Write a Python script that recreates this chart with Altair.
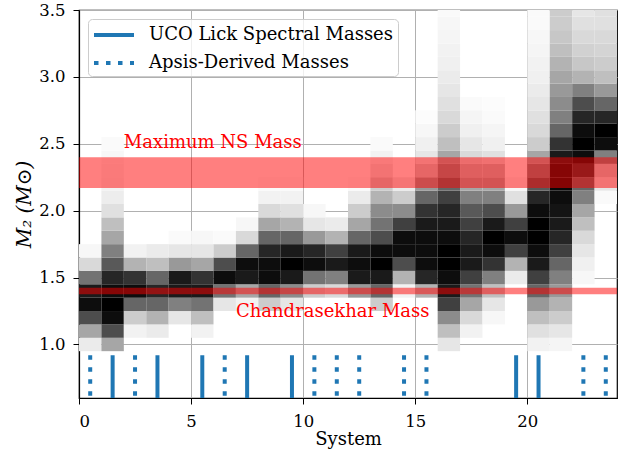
import altair as alt
import pandas as pd

# Mass grid (bin centres, in solar masses) for the per-system posterior shading
mass_grid = [1.0, 1.1, 1.2, 1.3, 1.4, 1.5, 1.6, 1.7, 1.8, 1.9, 2.0, 2.1, 2.2,
             2.3, 2.4, 2.5, 2.6, 2.7, 2.8, 2.9, 3.0, 3.1, 3.2, 3.3, 3.4, 3.5]

# Shading intensity (0 = white, 1 = black) read per system along mass_grid
density = [
    [.08, .35, .7, .95, .9, .55, .15, .03],
    [.35, .7, .95, 1.0, .95, .85, .65, .5, .35, .25, .12, .07, .05, .04, .03, .02],
    [0, .05, .2, .6, .95, .8, .3, .05],
    [0, .08, .3, .6, .85, .6, .25, .08],
    [0, 0, .1, .5, .9, .9, .4, .1, .02],
    [0, .05, .25, .55, .9, .8, .35, .1, .03],
    [0, 0, 0, .1, .55, .95, .7, .2, .02],
    [0, 0, 0, .05, .35, .9, .95, .6, .15, .03],
    [0, 0, 0, .2, .6, .95, .95, .85, .6, .35, .15, .05, .02],
    [0, 0, 0, .1, .45, .9, 1.0, .9, .6, .3, .12, .05, .02],
    [0, 0, 0, 0, .2, .55, .95, .85, .4, .1, .03],
    [0, 0, 0, 0, .15, .5, .9, .75, .3, .08],
    [0, 0, 0, 0, .4, .9, .95, .9, .6, .35, .2, .08, .02],
    [0, 0, 0, .2, .6, .9, 1.0, .95, .7, .55, .45, .3, .2, .1, .05, .02],
    [0, 0, 0, 0, .05, .3, .7, .95, .95, .75, .45, .2, .08],
    [0, 0, 0, 0, .3, .85, .95, .95, .95, .9, .8, .6, .4, .2, .1, .06, .03, .01],
    [.1, .25, .45, .75, .9, .95, 1.0, 1.0, .95, .9, .85, .75, .6, .45, .35, .25,
     .2, .15, .12, .1, .08, .06, .05, .04, .03, .02],
    [0, .05, .15, .35, .55, .75, .9, .9, .85, .75, .65, .5, .35, .25, .15, .1,
     .06, .04, .02],
    [0, 0, .03, .1, .25, .5, .8, .95, 1.0, .9, .7, .5, .35, .25, .12, .06, .04,
     .02, .01],
    [0, 0, 0, 0, 0, .08, .3, .75, .95, .75, .4, .12, .03],
    [.05, .12, .25, .4, .6, .75, .9, .95, 1.0, 1.0, .95, .85, .65, .5, .35, .2,
     .15, .12, .1, .08, .06, .05, .04, .03, .02, .02],
    [.04, .1, .2, .3, .4, .5, .6, .75, .85, .9, .92, .95, .97, .95, .9, .8, .6,
     .5, .45, .4, .35, .3, .25, .22, .2, .2],
    [0, 0, 0, 0, 0, .03, .06, .1, .15, .25, .35, .5, .6, .8, .95, 1.0, .95, .85,
     .7, .5, .3, .22, .18, .15, .12, .1],
    [0, 0, 0, 0, 0, 0, 0, 0, 0, 0, 0, .02, .1, .2, .5, .95, 1.0, .85, .6, .4,
     .25, .2, .17, .15, .12, .12],
]

# Systems with mass measurements (x = system position)
uco_lick_systems = [1.5, 3.5, 5.5, 7.5, 9.5, 19.5, 20.5]
apsis_systems = [0.5, 2.5, 6.5, 10.5, 11.5, 12.5, 14.5, 15.5, 22.5, 23.5]
marker_top = 0.92
marker_bottom = 0.6

ns_max_low, ns_max_high = 2.17, 2.40
chandrasekhar = 1.4

half_bin = 0.05
rows = []
for i, col in enumerate(density):
    for m, v in zip(mass_grid, col):
        if v > 0:
            rows.append({"x0": i, "x1": i + 1, "y0": m - half_bin,
                         "y1": min(m + half_bin, 3.5), "v": v})
dens_df = pd.DataFrame(rows)

FONT = "DejaVu Serif"
xscale = alt.Scale(domain=[0, 24], nice=False, zero=False)
yscale = alt.Scale(domain=[0.6, 3.5], nice=False, zero=False)

xaxis = alt.Axis(values=[0, 5, 10, 15, 20], title="System", format="d")
yaxis = alt.Axis(values=[1.0, 1.5, 2.0, 2.5, 3.0, 3.5], format=".1f",
                 title="M₂ (M⊙)")

dens = alt.Chart(dens_df).mark_rect(clip=True, strokeWidth=0).encode(
    x=alt.X("x0:Q", scale=xscale, axis=xaxis),
    x2="x1:Q",
    y=alt.Y("y0:Q", scale=yscale, axis=yaxis),
    y2="y1:Q",
    color=alt.Color("v:Q", scale=alt.Scale(domain=[0, 1],
                    range=["#ffffff", "#000000"], interpolate="rgb"),
                    legend=None),
)

band = alt.Chart(pd.DataFrame({"lo": [ns_max_low], "hi": [ns_max_high]})).mark_rect(
    color="red", opacity=0.5).encode(
    x=alt.value(0), x2=alt.value(538),
    y=alt.Y("lo:Q", scale=yscale), y2="hi:Q")

chandra = alt.Chart(pd.DataFrame({"m": [chandrasekhar]})).mark_rule(
    color="red", opacity=0.5, strokeWidth=6.5).encode(
    y=alt.Y("m:Q", scale=yscale))

labels_df = pd.DataFrame({
    "x": [2.0, 7.0], "y": [2.47, 1.205],
    "t": ["Maximum NS Mass", "Chandrasekhar Mass"]})
labels = alt.Chart(labels_df).mark_text(
    color="red", font=FONT, fontSize=18, align="left", baseline="alphabetic").encode(
    x=alt.X("x:Q", scale=xscale), y=alt.Y("y:Q", scale=yscale), text="t:N")

kinds = ["UCO Lick Spectral Masses", "Apsis-Derived Masses"]
markers_df = pd.DataFrame(
    [{"x": s, "top": marker_top, "bot": marker_bottom, "kind": kinds[0]} for s in uco_lick_systems]
    + [{"x": s, "top": marker_top, "bot": marker_bottom, "kind": kinds[1]} for s in apsis_systems])
markers = alt.Chart(markers_df).mark_rule(
    color="#1f77b4", strokeWidth=4, strokeCap="butt").encode(
    x=alt.X("x:Q", scale=xscale),
    y=alt.Y("top:Q", scale=yscale), y2="bot:Q",
    strokeDash=alt.StrokeDash("kind:N", scale=alt.Scale(domain=kinds, range=[[1, 0], [4.5, 7.5]]),
        legend=alt.Legend(title=None, orient="none", legendX=9, legendY=9,
                          symbolType="M-1,0H3", symbolStrokeWidth=4, symbolSize=400,
                          symbolStrokeColor="#1f77b4", labelFontSize=18, labelFont=FONT,
                          labelColor="black", labelLimit=400,
                          fillColor="rgba(255,255,255,0.8)", strokeColor="#cccccc",
                          cornerRadius=4, padding=4, rowPadding=7, labelOffset=33)),
)

chart = alt.layer(dens, band, chandra, labels, markers).properties(
    width=538, height=388,
    autosize=alt.AutoSizeParams(type="none"),
    padding={"left": 79, "top": 10, "right": 1, "bottom": 52},
).configure_view(stroke="black", strokeWidth=1.2).configure_axis(
    zindex=1, grid=True, gridColor="#b0b0b0", gridWidth=1, gridOpacity=1,
    domainColor="black", domainWidth=1.2, tickColor="black", tickSize=6,
    labelFont=FONT, labelFontSize=16.5, labelColor="black",
    titleFont=FONT, titleFontSize=18, titleColor="black", titleFontWeight="normal",
).configure_axisX(labelPadding=9, titlePadding=1).configure_axisY(
    labelPadding=8, titlePadding=4, titleFontSize=20, titleFontStyle="italic")

chart.save("out.html", embed_options={"renderer": "svg", "actions": False})
